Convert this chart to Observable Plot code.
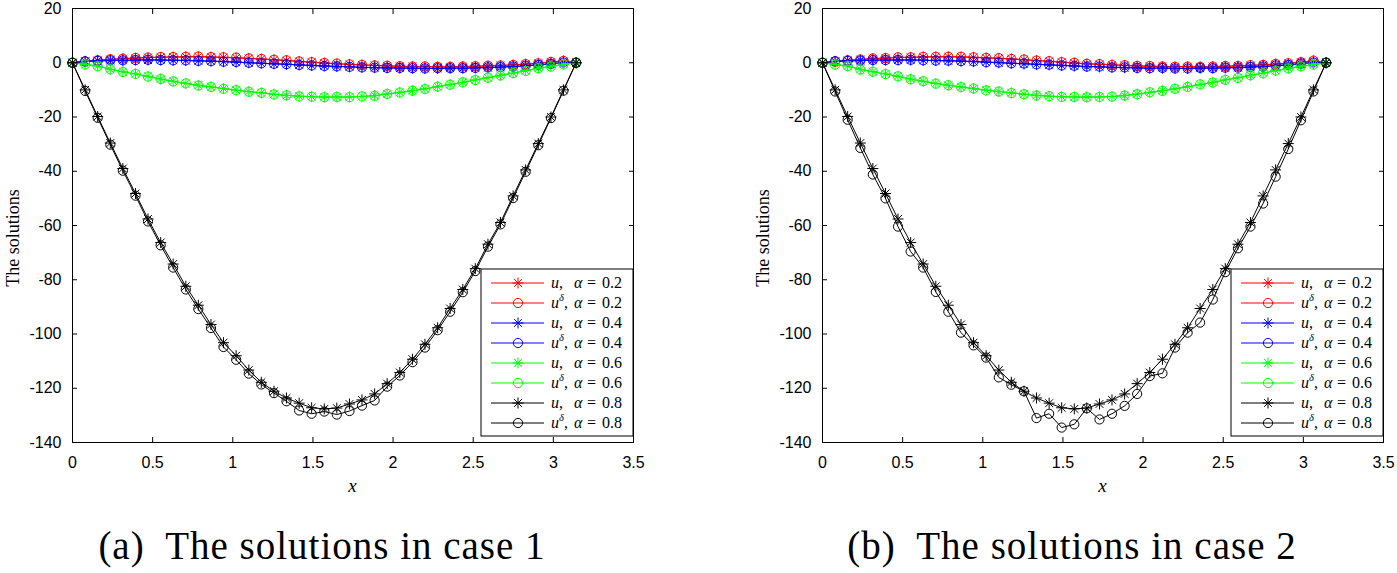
<!DOCTYPE html>
<html><head><meta charset="utf-8">
<script src="https://cdn.jsdelivr.net/npm/d3@7"></script>
<script src="https://cdn.jsdelivr.net/npm/@observablehq/plot@0.6"></script>
<style>
body{margin:0;background:#fff;overflow:hidden}
#wrap{position:relative;width:1397px;height:573px;background:#fff}
.panel{position:absolute;top:-4px}
.cap{position:absolute;top:526px;font-family:"Liberation Serif",serif;font-size:39px;letter-spacing:1px;white-space:nowrap;transform:translateX(-50%);line-height:1}
.ylab{position:absolute;font-family:"Liberation Serif",serif;font-size:18px;white-space:nowrap;transform:translate(-50%,-50%) rotate(-90deg)}
.xlab{position:absolute;font-family:"Liberation Serif",serif;font-style:italic;font-size:19px;transform:translate(-50%,-50%)}
</style></head><body><div id="wrap"></div>
<script>
// grid points x_i (41 points from 0 to pi)
const xs = [0, 0.079, 0.157, 0.236, 0.314, 0.393, 0.471, 0.550, 0.628, 0.707, 0.785, 0.864, 0.942, 1.021, 1.100, 1.178, 1.257, 1.335, 1.414, 1.492, 1.571, 1.649, 1.728, 1.806, 1.885, 1.963, 2.042, 2.121, 2.199, 2.278, 2.356, 2.435, 2.513, 2.592, 2.670, 2.749, 2.827, 2.906, 2.985, 3.063, 3.142];

// exact solutions u
const u02 = [0, 0.5, 0.9, 1.2, 1.5, 1.7, 1.9, 2.0, 2.1, 2.2, 2.2, 2.1, 2.0, 1.8, 1.6, 1.4, 1.1, 0.8, 0.5, 0.2, -0.1, -0.4, -0.6, -0.8, -1.0, -1.2, -1.3, -1.4, -1.5, -1.5, -1.5, -1.4, -1.3, -1.2, -1.0, -0.8, -0.5, -0.2, 0.2, 0.7, 0];
const u04 = [0, 0.5, 0.7, 0.8, 0.9, 1.0, 1.0, 1.0, 0.9, 0.8, 0.7, 0.6, 0.4, 0.2, 0.0, -0.2, -0.4, -0.6, -0.8, -1.0, -1.2, -1.4, -1.5, -1.7, -1.8, -1.9, -2.0, -2.0, -2.1, -2.1, -2.0, -2.0, -1.9, -1.8, -1.6, -1.4, -1.1, -0.8, -0.4, 0.1, 0];
const u06 = [0, -0.6, -1.2, -2.4, -3.3, -4.1, -5.0, -6.0, -6.8, -7.6, -8.3, -8.9, -9.5, -10.1, -10.6, -11.1, -11.6, -12.0, -12.3, -12.5, -12.6, -12.6, -12.6, -12.4, -12.1, -11.5, -10.9, -10.3, -9.6, -8.8, -8.0, -7.2, -6.3, -5.5, -4.6, -3.8, -2.9, -2.0, -1.3, -0.6, 0];
const u08 = [0, -10.0, -19.8, -29.6, -39.0, -48.2, -57.6, -66.3, -74.2, -82.4, -89.4, -96.5, -103.2, -108.0, -113.3, -117.8, -121.1, -123.6, -125.5, -127.2, -127.6, -127.3, -125.8, -124.3, -122.1, -118.3, -114.2, -109.3, -103.8, -97.7, -90.6, -83.6, -75.9, -66.9, -58.9, -49.1, -39.5, -29.8, -20.0, -10.0, 0];

// noisy-data solutions u^delta, case 1
const ud02c1 = [0, 0.5, 0.9, 1.3, 1.5, 1.8, 1.9, 2.1, 2.1, 2.2, 2.3, 2.1, 2.0, 1.9, 1.6, 1.4, 1.1, 0.9, 0.5, 0.2, -0.1, -0.3, -0.6, -0.8, -1.0, -1.1, -1.3, -1.4, -1.4, -1.5, -1.5, -1.4, -1.3, -1.1, -1.0, -0.8, -0.5, -0.2, 0.3, 0.7, 0];
const ud04c1 = [0, 0.5, 0.7, 0.9, 0.9, 1.0, 1.1, 1.0, 0.9, 0.9, 0.7, 0.6, 0.4, 0.3, 0.0, -0.2, -0.4, -0.5, -0.8, -1.0, -1.2, -1.3, -1.5, -1.7, -1.8, -1.9, -1.9, -2.0, -2.1, -2.0, -2.0, -2.0, -1.9, -1.7, -1.6, -1.4, -1.1, -0.8, -0.4, 0.1, 0];
const ud06c1 = [0, -0.6, -1.3, -2.4, -3.4, -4.1, -5.1, -6.0, -6.9, -7.6, -8.4, -8.9, -9.6, -10.1, -10.7, -11.1, -11.7, -12.0, -12.4, -12.5, -12.7, -12.6, -12.7, -12.4, -12.2, -11.5, -11.0, -10.3, -9.7, -8.8, -8.1, -7.2, -6.4, -5.5, -4.7, -3.8, -3.0, -2.0, -1.4, -0.6, 0];
const ud08c1 = [0, -10.4, -20.3, -30.2, -39.8, -49.0, -58.5, -67.3, -75.5, -83.6, -90.8, -97.8, -104.8, -109.5, -114.6, -118.6, -121.8, -124.8, -128.2, -129.4, -128.6, -129.7, -128.4, -126.4, -124.5, -119.4, -115.3, -110.4, -105.0, -98.6, -91.8, -84.6, -76.8, -67.8, -59.6, -49.9, -40.2, -30.4, -20.4, -10.3, 0];

// noisy-data solutions u^delta, case 2
const ud02c2 = [0, 0.4, 0.9, 1.2, 1.6, 1.7, 2.0, 2.0, 2.2, 2.2, 2.2, 2.2, 2.0, 1.8, 1.7, 1.4, 1.2, 0.8, 0.6, 0.2, 0.0, -0.4, -0.5, -0.8, -0.9, -1.2, -1.2, -1.4, -1.5, -1.4, -1.5, -1.4, -1.2, -1.2, -0.9, -0.8, -0.4, -0.2, 0.2, 0.8, 0];
const ud04c2 = [0, 0.6, 0.7, 0.8, 1.0, 1.0, 1.0, 1.1, 0.9, 0.8, 0.8, 0.6, 0.5, 0.2, 0.1, -0.2, -0.3, -0.6, -0.7, -1.0, -1.1, -1.4, -1.4, -1.7, -1.7, -1.9, -2.0, -1.9, -2.1, -2.1, -1.9, -2.0, -1.8, -1.8, -1.5, -1.4, -1.0, -0.8, -0.3, 0.1, 0];
const ud06c2 = [0, -0.7, -1.2, -2.5, -3.3, -4.2, -5.0, -6.1, -6.8, -7.7, -8.3, -9.0, -9.5, -10.2, -10.6, -11.2, -11.6, -12.1, -12.3, -12.6, -12.6, -12.7, -12.6, -12.5, -12.1, -11.6, -10.9, -10.4, -9.6, -8.9, -8.0, -7.3, -6.3, -5.6, -4.6, -3.9, -2.9, -2.1, -1.3, -0.7, 0];
const ud08c2 = [0, -10.6, -21.0, -31.4, -41.2, -50.0, -60.4, -69.6, -75.5, -84.5, -91.8, -99.5, -104.2, -108.7, -116.0, -118.7, -121.1, -131.0, -129.4, -134.5, -133.3, -127.4, -131.5, -129.4, -126.5, -122.1, -115.5, -114.5, -105.0, -99.5, -95.8, -87.3, -77.2, -68.4, -60.4, -51.9, -42.0, -31.8, -21.2, -10.6, 0];

const xTicks = [0, 0.5, 1, 1.5, 2, 2.5, 3, 3.5];
const yTicks = [-140, -120, -100, -80, -60, -40, -20, 0, 20];
const alphas = ["0.2", "0.4", "0.6", "0.8"];
const colors = ["#ff0000", "#0000ff", "#00ff00", "#000000"];
const captions = ["(a)\u2002The solutions in case 1", "(b)\u2002The solutions in case 2"];
const yLabel = "The solutions";
const xLabel = "x";

// 8-armed MATLAB-like asterisk
const star = {
  draw(ctx, size) {
    const r = Math.sqrt(size / Math.PI), d = r * Math.SQRT1_2;
    ctx.moveTo(-r, 0); ctx.lineTo(r, 0);
    ctx.moveTo(0, -r); ctx.lineTo(0, r);
    ctx.moveTo(-d, -d); ctx.lineTo(d, d);
    ctx.moveTo(-d, d); ctx.lineTo(d, -d);
  }
};

const W = 647, H = 500, mL = 72, mR = 14, mT = 12, mB = 54;
const font = {fontFamily: "'Liberation Sans', Arial, sans-serif", fontSize: 16};

function makePanel(uList, udList) {
  const marks = [];
  for (let k = 0; k < 4; k++) {
    for (const [ys, sym] of [[uList[k], star], [udList[k], "circle"]]) {
      const data = xs.map((x, i) => ({x, y: ys[i]}));
      marks.push(Plot.line(data, {x: "x", y: "y", stroke: colors[k], strokeWidth: 1}));
      marks.push(Plot.dot(data, {x: "x", y: "y", stroke: colors[k], symbol: sym, r: sym === star ? 5.5 : 4.6, fill: "none", strokeWidth: 1}));
    }
  }
  const svg = Plot.plot({
    width: W, height: H, marginLeft: mL, marginRight: mR, marginTop: mT, marginBottom: mB,
    style: {fontFamily: font.fontFamily, fontSize: "16px", color: "#000", background: "transparent", overflow: "visible"},
    x: {domain: [0, 3.5]},
    y: {domain: [-140, 20]},
    marks: [
      ...marks,
      Plot.frame({stroke: "#000", strokeWidth: 1}),
      Plot.axisX(xTicks, {anchor: "bottom", tickSize: -5, tickPadding: 19, tickFormat: d => String(d), label: null, ...font}),
      Plot.axisX(xTicks, {anchor: "top", tickSize: -5, tickFormat: () => "", label: null}),
      Plot.axisY(yTicks, {anchor: "left", tickSize: -5, tickPadding: 16, tickFormat: d => String(d), label: null, ...font}),
      Plot.axisY(yTicks, {anchor: "right", tickSize: -5, tickFormat: () => "", label: null})
    ]
  });
  // legend box (lower right, inside axes)
  const lw = 152, lh = 167;
  const lx = W - mR - lw, ly = mT + 261;
  const g = d3.select(svg).append("g").attr("transform", `translate(${lx},${ly})`);
  g.append("rect").attr("width", lw).attr("height", lh).attr("fill", "#fff").attr("stroke", "#000").attr("stroke-width", 1);
  const sym = d3.symbol();
  for (let k = 0; k < 4; k++) {
    for (let j = 0; j < 2; j++) {
      const row = k * 2 + j, cy = 14 + row * 20;
      const c = colors[k];
      g.append("line").attr("x1", 10).attr("x2", 63).attr("y1", cy).attr("y2", cy).attr("stroke", c).attr("stroke-width", 1);
      if (j === 0) {
        g.append("path").attr("transform", `translate(37,${cy})`).attr("d", sym.type(star).size(Math.PI * 5.5 * 5.5)()).attr("stroke", c).attr("fill", "none");
      } else {
        g.append("circle").attr("cx", 37).attr("cy", cy).attr("r", 4.6).attr("stroke", c).attr("fill", "none");
      }
      const t = g.append("text").attr("x", 70).attr("y", cy + 5).attr("font-family", "'Liberation Serif', serif").attr("font-size", 16).attr("text-anchor", "start").attr("fill", "#000");
      t.append("tspan").attr("font-style", "italic").text("u");
      if (j === 1) {
        t.append("tspan").attr("font-style", "italic").attr("font-size", 10.5).attr("dy", -7).text("δ");
        t.append("tspan").attr("dy", 7).text(",");
      } else {
        t.append("tspan").text(",");
      }
      const t2 = g.append("text").attr("x", 93).attr("y", cy + 5).attr("font-family", "'Liberation Serif', serif").attr("font-size", 16).attr("text-anchor", "start").attr("fill", "#000");
      t2.append("tspan").attr("font-style", "italic").text("α");
      t2.append("tspan").attr("x", 106).text("=");
      t2.append("tspan").attr("x", 121).text(alphas[k]);
    }
  }
  return svg;
}

const wrap = document.getElementById("wrap");
const panels = [
  makePanel([u02, u04, u06, u08], [ud02c1, ud04c1, ud06c1, ud08c1]),
  makePanel([u02, u04, u06, u08], [ud02c2, ud04c2, ud06c2, ud08c2])
];
const lefts = [0, 750];
const capCenters = [322, 1072];
panels.forEach((svg, p) => {
  const div = document.createElement("div");
  div.className = "panel";
  div.style.left = lefts[p] + "px";
  div.appendChild(svg);
  wrap.appendChild(div);
  const yl = document.createElement("div");
  yl.className = "ylab"; yl.textContent = yLabel;
  yl.style.left = (lefts[p] + 13) + "px"; yl.style.top = "238px";
  wrap.appendChild(yl);
  const xl = document.createElement("div");
  xl.className = "xlab"; xl.textContent = xLabel;
  xl.style.left = (lefts[p] + mL + (W - mL - mR) / 2) + "px"; xl.style.top = "486px";
  wrap.appendChild(xl);
  const cap = document.createElement("div");
  cap.className = "cap"; cap.textContent = captions[p];
  cap.style.left = capCenters[p] + "px";
  wrap.appendChild(cap);
});
</script></body></html>
